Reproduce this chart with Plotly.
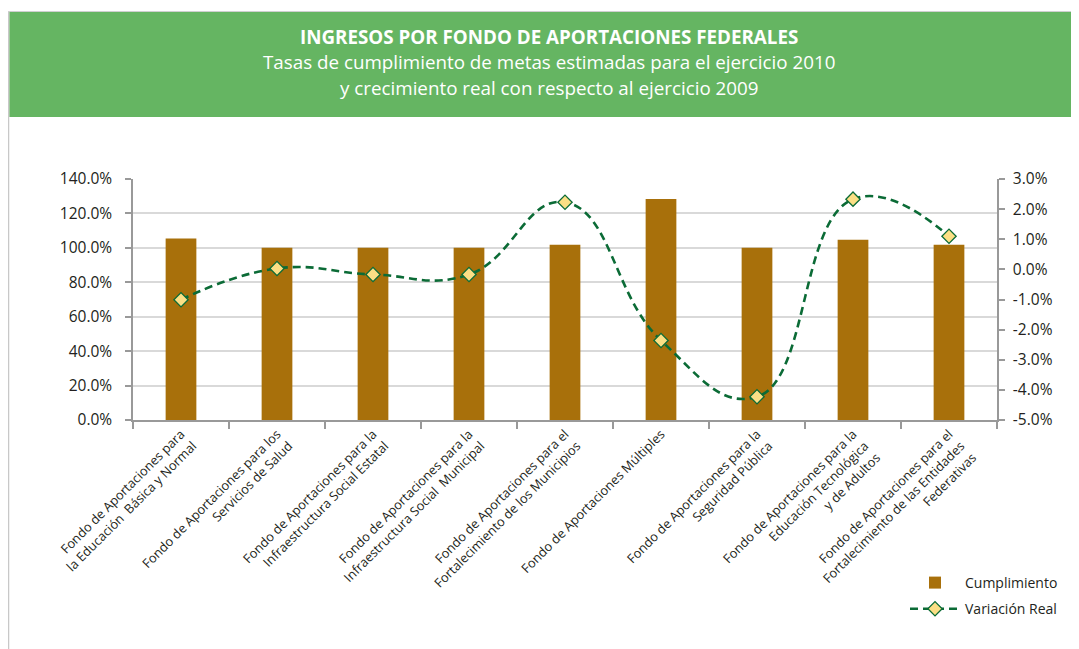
import plotly.graph_objects as go

categories = [
    "Fondo de Aportaciones para<br>la Educación  Básica y Normal",
    "Fondo de Aportaciones para los<br>Servicios de Salud",
    "Fondo de Aportaciones para la<br>Infraestructura Social Estatal",
    "Fondo de Aportaciones para la<br>Infraestructura Social  Municipal",
    "Fondo de Aportaciones para el<br>Fortalecimiento de los Municipios",
    "Fondo de Aportaciones Múltiples",
    "Fondo de Aportaciones para la<br>Seguridad Pública",
    "Fondo de Aportaciones para la<br>Educación Tecnológica<br>y de Adultos",
    "Fondo de Aportaciones para el<br>Fortalecimiento de las Entidades<br>Federativas",
]
cumplimiento = [1.055, 1.0, 1.0, 1.0, 1.018, 1.284, 1.0, 1.047, 1.018]
variacion_real = [-0.0101, 0.0003, -0.0017, -0.0017, 0.0223, -0.0236, -0.0423, 0.0233, 0.0110]

left_ticks = [0, 0.2, 0.4, 0.6, 0.8, 1.0, 1.2, 1.4]
left_labels = ["0.0%", "20.0%", "40.0%", "60.0%", "80.0%", "100.0%", "120.0%", "140.0%"]
right_ticks = [-0.05, -0.04, -0.03, -0.02, -0.01, 0.0, 0.01, 0.02, 0.03]
right_labels = ["-5.0%", "-4.0%", "-3.0%", "-2.0%", "-1.0%", "0.0%", "1.0%", "2.0%", "3.0%"]

# page body has an 8px margin; work in reference pixel coords and shift
OFF = 8
W, H = 1079 - OFF, 649 - OFF
L, R, T, B = 133 - OFF, 997 - OFF, 179 - OFF, 420 - OFF


def px(x):
    return (x - OFF - L) / (R - L)


def py(y):
    return (B - (y - OFF)) / (B - T)


FONT = "Open Sans"
BAR = "#A8700B"
GREEN = "#0B6B36"
TXT = "#231F20"

fig = go.Figure()
fig.add_trace(go.Bar(
    x=categories, y=cumplimiento, name="Cumplimiento", legendgroup="a",
    marker=dict(color=BAR, line=dict(width=0)), width=0.32,
))
fig.add_trace(go.Scatter(
    x=categories, y=variacion_real, name="Variación Real", yaxis="y2", legendgroup="b",
    mode="lines+markers",
    line=dict(color=GREEN, width=2.6, dash="8px,5px", shape="spline", smoothing=1.3),
    marker=dict(symbol="diamond", size=11, color="#FBDF85",
                line=dict(color=GREEN, width=1.3)),
))

shapes = [
    dict(type="line", xref="paper", yref="paper", x0=px(8.5), x1=px(8.5),
         y0=py(11), y1=py(660), line=dict(color="#c8c8c8", width=1.5)),
    dict(type="line", xref="paper", yref="paper", x0=px(8), x1=px(1085),
         y0=py(11.5), y1=py(11.5), line=dict(color="#d0d0d0", width=1)),
    dict(type="rect", xref="paper", yref="paper", x0=px(9.3), x1=px(1085),
         y0=py(117), y1=py(12), fillcolor="#65B562", line=dict(width=0), layer="below"),
]

title_lines = [
    ("<b>INGRESOS POR FONDO DE APORTACIONES FEDERALES</b>", 37),
    ("Tasas de cumplimiento de metas estimadas para el ejercicio 2010", 62),
    ("y crecimiento real con respecto al ejercicio 2009", 88),
]
annotations = [
    dict(text=t, x=px(549), y=py(yy), xref="paper", yref="paper", showarrow=False,
         xanchor="center", yanchor="middle",
         font=dict(family=FONT, size=18.8, color="white"))
    for t, yy in title_lines
]

fig.update_layout(
    width=W, height=H,
    margin=dict(l=L, r=W - R, t=T, b=H - B, autoexpand=False),
    paper_bgcolor="white", plot_bgcolor="white",
    font=dict(family=FONT, color=TXT),
    showlegend=True,
    legend=dict(x=px(905), y=py(567), xanchor="left", yanchor="top",
                font=dict(family=FONT, size=14, color=TXT),
                itemwidth=50, tracegroupgap=5, bgcolor="rgba(0,0,0,0)"),
    xaxis=dict(
        type="category", tickson="boundaries", ticks="outside", ticklen=7,
        tickcolor="#999999", tickwidth=1.5,
        showline=True, linecolor="#999999", linewidth=1.5,
        tickangle=-45, tickfont=dict(family=FONT, size=12.8, color=TXT),
        showgrid=False, range=[-0.5, 8.5],
    ),
    yaxis=dict(
        range=[0, 1.4], tickvals=left_ticks, ticktext=left_labels,
        showline=True, linecolor="#999999", linewidth=1.5,
        ticks="outside", ticklen=6, tickcolor="#999999", tickwidth=1.5,
        gridcolor="#D9D9D9", gridwidth=1.5, zeroline=False,
        ticklabelstandoff=10,
        tickfont=dict(family=FONT, size=15.5, color=TXT),
    ),
    yaxis2=dict(
        overlaying="y", side="right",
        range=[-0.05, 0.03], tickvals=right_ticks, ticktext=right_labels,
        showline=True, linecolor="#999999", linewidth=1.5,
        ticks="outside", ticklen=6, tickcolor="#999999", tickwidth=1.5,
        showgrid=False, zeroline=False, ticklabelstandoff=5,
        tickfont=dict(family=FONT, size=15.5, color=TXT),
    ),
    shapes=shapes,
    annotations=annotations,
)

fig.write_html("out.html")
